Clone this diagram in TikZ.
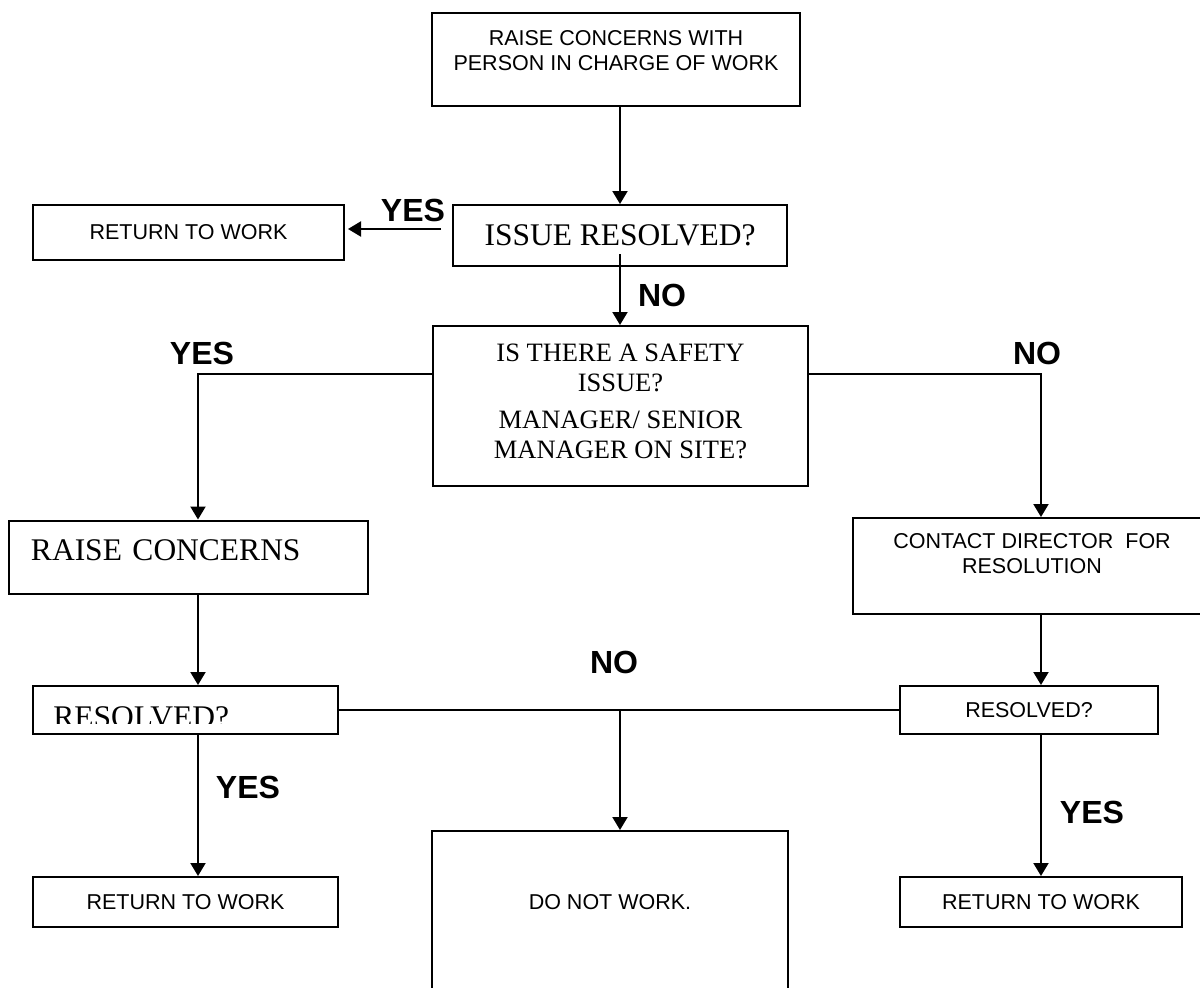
\documentclass[tikz,border=0pt]{standalone}
\usepackage{fontspec}
\setmainfont{Liberation Serif}
\setsansfont{Liberation Sans}
\usetikzlibrary{arrows.meta}

\begin{document}
\begin{tikzpicture}[x = 0.5pt, y = -0.5pt,
    box/.style = {draw, line width = 1pt, align = center},
    arial/.style = {font = \sffamily\fontsize{10.75}{12.5}\selectfont},
    times/.style = {font = \rmfamily\fontsize{15.75}{18}\selectfont},
    lbl/.style = {font = \sffamily\bfseries\fontsize{16}{18}\selectfont},
    arr/.style = {line width = 1pt, -{Triangle[width = 7.5pt, length = 6.5pt]}},
    ln/.style = {line width = 1pt}]
          \useasboundingbox (0,0) rectangle (1200,987);
          \coordinate (lcol) at (198,0);
          \coordinate (mcol) at (620,0);
          \coordinate (rcol) at (1041,0);
          \coordinate (yesfrom) at (441,229);

          \node[box, arial, minimum width = 184pt, minimum height = 46.5pt] (concern) at (616,59.5)
              {RAISE CONCERNS WITH\\PERSON IN CHARGE OF WORK\\[-3.5pt]~};
          \node[box, times, minimum width = 167pt, minimum height = 30.5pt] (issue) at (620,235.5) {ISSUE RESOLVED?};
          \node[box, arial, minimum width = 155.5pt, minimum height = 27.5pt] (ret1) at (188.5,232.5) {RETURN TO WORK};
          \node[box, font = \rmfamily\fontsize{13.25}{15}\selectfont, minimum width = 187.5pt, minimum height = 80pt] (safety) at (620.5,406)
              {IS THERE A SAFETY\\ISSUE?\\[3.5pt]MANAGER/ SENIOR\\MANAGER ON SITE?\\[-10.5pt]~};
          \node[box, times, align = left, text width = 157.5pt, inner xsep = 11pt, inner ysep = 0pt,
                text height = 20pt, text depth = 16.5pt] (raisec) at (188.5,557) {RAISE CONCERNS};
          \node[box, arial, minimum width = 179pt, minimum height = 48pt] (contact) at (1032,566)
              {CONTACT DIRECTOR\ \ FOR\\RESOLUTION\\~};

          % resolved? boxes
          \node[box, minimum width = 152.5pt, minimum height = 24pt] (res1) at (185.5,710) {};
          \begin{scope}
            \clip (33,686) rectangle (338,723);
            \node[times, anchor = base west, inner sep = 0pt] (res1txt) at (53,727) {RESOLVED?};
          \end{scope}
          \node[box, arial, minimum width = 129pt, minimum height = 24pt] (res2) at (1029,710) {RESOLVED?};

          \node[box, arial, minimum width = 152.5pt, minimum height = 25pt] (ret2) at (185.5,902) {RETURN TO WORK};
          \node[box, arial, minimum width = 141pt, minimum height = 25pt] (ret3) at (1041,902) {RETURN TO WORK};
          \node[box, arial, minimum width = 178pt, inner ysep = 0pt, text height = 39.25pt, text depth = 60pt,
                anchor = base] (dnw) at (610,909.5) {DO NOT WORK.};

          \node[lbl] (yes1) at (413,210) {YES};
          \node[lbl] (no1) at (662,295) {NO};
          \node[lbl] (yes2) at (202,353) {YES};
          \node[lbl] (no2) at (1037,353) {NO};
          \node[lbl] (no3) at (614,662) {NO};
          \node[lbl] (yes3) at (248,787) {YES};
          \node[lbl] (yes4) at (1092,812) {YES};

          \draw[arr] (mcol |- concern.south) -- (mcol |- issue.north);
          \draw[arr, shorten > = 1.5pt] (yesfrom) -- (yesfrom -| ret1.east);
          \draw[arr] ([yshift = 6.5pt]issue.south) -- (mcol |- safety.north);
          \draw[arr] ([yshift = 16pt]safety.west) -| (lcol |- raisec.north);
          \draw[arr] ([yshift = 16pt]safety.east) -| (rcol |- contact.north);
          \draw[arr] (lcol |- raisec.south) -- (lcol |- res1.north);
          \draw[arr] (lcol |- res1.south) -- (lcol |- ret2.north);
          \draw[arr] (rcol |- contact.south) -- (rcol |- res2.north);
          \draw[arr] (rcol |- res2.south) -- (rcol |- ret3.north);
          \draw[ln] (res1.east) -- (res2.west);
          \draw[arr] (mcol |- res1.east) -- (mcol |- dnw.north);
        \end{tikzpicture}
\end{document}
